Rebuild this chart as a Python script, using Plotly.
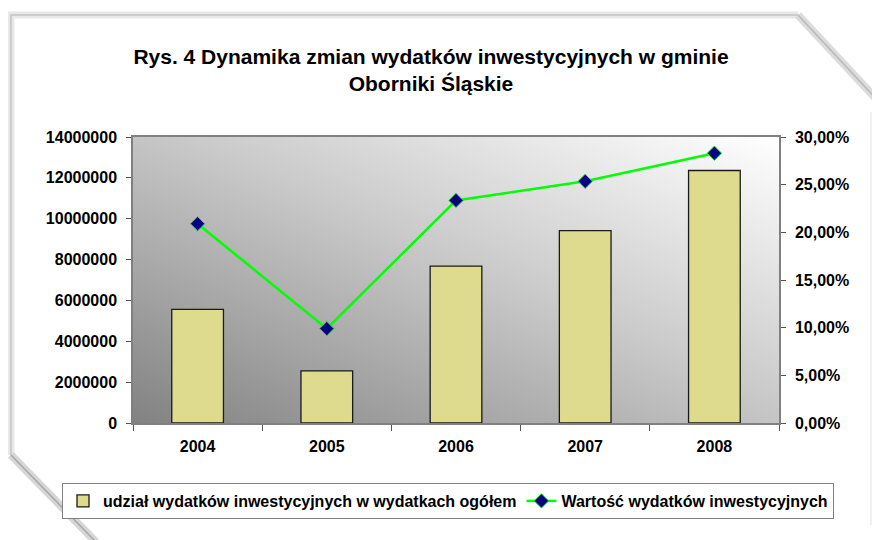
import base64
import plotly.graph_objects as go

# ---- data ----
years = ["2004", "2005", "2006", "2007", "2008"]
bar_values = [5560000, 2550000, 7680000, 9420000, 12360000]
line_values = [0.209, 0.099, 0.2335, 0.2535, 0.283]
bar_name = "udział wydatków inwestycyjnych w wydatkach ogółem"
line_name = "Wartość wydatków inwestycyjnych"
title_text = "Rys. 4 Dynamika zmian wydatków inwestycyjnych w gminie<br>Oborniki Śląskie"

FONT = "Arial, Liberation Sans, sans-serif"
OFF = 8  # page body margin
W, H = 880 - OFF, 540 - OFF
L, T = 133 - OFF, 137 - OFF
PW, PH = 646, 286
R, B = W - L - PW, H - T - PH


def px(x):
    return (x - OFF - L) / PW


def py(y):
    return (T + PH - (y - OFF)) / PH


def path(points):
    return "M " + " L ".join(f"{px(x):.4f},{py(y):.4f}" for x, y in points)


# gradient background for plot area
svg = (
    "<svg xmlns='http://www.w3.org/2000/svg' width='646' height='286' preserveAspectRatio='none' viewBox='0 0 646 286'>"
    "<defs><linearGradient id='g' x1='0' y1='1' x2='1' y2='0'>"
    "<stop offset='0' stop-color='#828282'/><stop offset='0.55' stop-color='#cbcbcb'/>"
    "<stop offset='1' stop-color='#ffffff'/></linearGradient></defs>"
    "<rect width='646' height='286' fill='url(#g)'/></svg>"
)
bg_uri = "data:image/svg+xml;base64," + base64.b64encode(svg.encode()).decode()

fig = go.Figure()
fig.add_trace(go.Bar(
    x=years, y=bar_values, name=bar_name, width=0.4,
    marker=dict(color="#dedb8e", line=dict(color="#1a1a1a", width=1.3)),
    yaxis="y",
))
fig.add_trace(go.Scatter(
    x=years, y=line_values, name=line_name, mode="lines+markers",
    line=dict(color="#00ff00", width=2.5),
    marker=dict(symbol="diamond", size=11, color="#000080", line=dict(color="#22dd22", width=1)),
    yaxis="y2",
))

shapes = [
    dict(type="path", xref="paper", yref="paper",
         path=path([(11, 455), (11, 15), (798, 15)]),
         line=dict(color="#e8e8e8", width=7), layer="below"),
    dict(type="path", xref="paper", yref="paper",
         path=path([(11, 455), (11, 15), (798, 15)]),
         line=dict(color="#c4c4c4", width=1.5), layer="below"),
    dict(type="path", xref="paper", yref="paper",
         path=path([(798, 15), (882, 105)]),
         line=dict(color="#dcdcdc", width=8), layer="below"),
    dict(type="path", xref="paper", yref="paper",
         path=path([(798, 15), (882, 105)]),
         line=dict(color="#b8b8b8", width=1.5), layer="below"),
    dict(type="path", xref="paper", yref="paper",
         path=path([(11, 455), (96, 542)]),
         line=dict(color="#d6d6d6", width=8), layer="below"),
    dict(type="path", xref="paper", yref="paper",
         path=path([(11, 455), (96, 542)]),
         line=dict(color="#a8a8a8", width=1.5), layer="below"),
    dict(type="path", xref="paper", yref="paper",
         path=path([(871, 112), (871, 525)]),
         line=dict(color="#ececec", width=1.5), layer="below"),
]

tickfont = dict(family=FONT, size=16, color="black", weight="bold")

fig.update_layout(
    width=W, height=H,
    margin=dict(l=L, r=R, t=T, b=B, autoexpand=False),
    paper_bgcolor="white",
    plot_bgcolor="rgba(0,0,0,0)",
    separators=", ",
    font=dict(family=FONT, size=16, color="black", weight="bold"),
    title=dict(text=title_text, x=(431 - OFF) / W, xanchor="center", xref="container",
               y=1 - 56 / H, yanchor="top", yref="container",
               font=dict(family=FONT, size=21, color="black", weight="bold")),
    xaxis=dict(type="category", tickson="boundaries", ticks="outside", ticklen=6,
               tickcolor="#555555", showline=True, linecolor="#808080", linewidth=1.5,
               mirror=True, showgrid=False, ticklabelstandoff=8, tickfont=tickfont),
    yaxis=dict(range=[0, 14000000], dtick=2000000, tickformat="d", ticks="outside",
               ticklen=5, tickcolor="#555555", showline=True, linecolor="#808080",
               linewidth=1.5, showgrid=False, zeroline=False, ticklabelstandoff=6,
               tickfont=tickfont),
    yaxis2=dict(range=[0, 0.30], dtick=0.05, tickformat=".2%", overlaying="y",
                side="right", ticks="outside", ticklen=5, tickcolor="#555555",
                showline=True, linecolor="#808080", linewidth=1.5, showgrid=False,
                zeroline=False, ticklabelstandoff=6, tickfont=tickfont),
    legend=dict(orientation="h", x=px(62), xanchor="left", y=py(483), yanchor="top",
                bgcolor="white", bordercolor="#808080", borderwidth=1,
                font=dict(family=FONT, size=16, color="black", weight="bold"),
                itemwidth=30, tracegroupgap=0),
    images=[dict(source=bg_uri, xref="paper", yref="paper", x=0, y=1, sizex=1, sizey=1,
                 sizing="stretch", xanchor="left", yanchor="top", layer="below")],
    shapes=shapes,
    showlegend=True,
)

fig.write_html("out.html")
